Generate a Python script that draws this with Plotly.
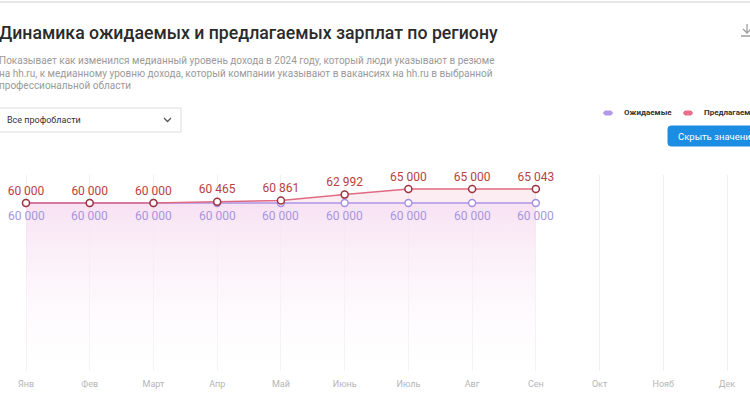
import plotly.graph_objects as go

months = ["Янв", "Фев", "Март", "Апр", "Май", "Июнь", "Июль", "Авг", "Сен", "Окт", "Нояб", "Дек"]
expected = [60000, 60000, 60000, 60000, 60000, 60000, 60000, 60000, 60000]
offered = [60000, 60000, 60000, 60465, 60861, 62992, 65000, 65000, 65043]

W, H = 750, 400


def px(x):
    return x / W


def py(y):
    return 1 - y / H


def fmt(v):
    return f"{v:,}".replace(",", " ")


fig = go.Figure()

fig.add_trace(go.Scatter(
    x=months[:len(expected)], y=expected,
    mode="lines+markers",
    line=dict(color="#ad95e6", width=1.5),
    marker=dict(size=7, color="white", line=dict(color="#a48ee0", width=1.4)),
    fill="tozeroy",
    fillgradient=dict(type="vertical",
                      colorscale=[[0, "rgba(255,255,255,0.2)"], [1, "rgba(247,224,242,0.95)"]]),
    cliponaxis=False,
    hoverinfo="skip", showlegend=False,
))

fig.add_trace(go.Scatter(
    x=months[:len(offered)], y=offered,
    mode="lines+markers+text",
    text=[fmt(v) for v in offered],
    textposition="top center",
    textfont=dict(color="#b8423f", size=12, family="Roboto"),
    line=dict(color="#e06a82", width=1.5),
    marker=dict(size=7, color="white", line=dict(color="#9e3440", width=1.5)),
    fill="tonexty",
    fillcolor="rgba(248,215,228,0.45)",
    cliponaxis=False,
    hoverinfo="skip", showlegend=False,
))

xmin = -26 / 63.73
fig.update_xaxes(
    type="category", categoryorder="array", categoryarray=months,
    range=[xmin, xmin + W / 63.73],
    tickvals=months, ticktext=months,
    tickfont=dict(color="#b5b5b5", size=9, family="Roboto"),
    ticklabelstandoff=6,
    showgrid=True, gridcolor="#f0f0f0", gridwidth=1,
    zeroline=False, showline=False, ticks="",
    domain=[0, 1], fixedrange=True,
)
fig.update_yaxes(
    range=[0, 70000], visible=False, showgrid=False, zeroline=False,
    domain=[py(371), py(175)], fixedrange=True,
)

ann = []
shapes = []

# value labels for the expected series (through the data axes)
for m, v in zip(months, expected):
    ann.append(dict(x=m, y=v, xref="x", yref="y", text=fmt(v), showarrow=False,
                    yshift=-13, yanchor="middle", xanchor="center",
                    font=dict(color="#a496e0", size=12, family="Roboto")))

# top border line
shapes.append(dict(type="line", xref="paper", yref="paper", x0=0, x1=1, y0=py(2), y1=py(2),
                   line=dict(color="#e6e6e6", width=2)))

ann.append(dict(text="Динамика ожидаемых и предлагаемых зарплат по региону",
                x=px(-3), y=py(33), xref="paper", yref="paper", xanchor="left", yanchor="middle",
                showarrow=False, font=dict(size=17.7, color="#2b2b2b", family="Roboto", weight=500)))

subtitle = ["Показывает как изменился медианный уровень дохода в 2024 году, который люди указывают в резюме",
            "на hh.ru, к медианному уровню дохода, который компании указывают в вакансиях на hh.ru в выбранной",
            "профессиональной области"]
for i, line in enumerate(subtitle):
    ann.append(dict(text=line, x=px(-3), y=py(60 + 13 * i), xref="paper", yref="paper",
                    xanchor="left", yanchor="middle", showarrow=False,
                    font=dict(size=10, color="#9a9a9a", family="Roboto")))

# dropdown
shapes.append(dict(type="rect", xref="paper", yref="paper", x0=px(-1), x1=px(181), y0=py(132), y1=py(108),
                   line=dict(color="#dcdcdc", width=1), fillcolor="white"))
ann.append(dict(text="Все профобласти", x=px(5), y=py(120), xref="paper", yref="paper",
                xanchor="left", yanchor="middle", showarrow=False,
                font=dict(size=9, color="#333333", family="Roboto")))
shapes.append(dict(type="path", xref="paper", yref="paper",
                   path=f"M {px(164)} {py(118)} L {px(167.5)} {py(121.5)} L {px(171)} {py(118)}",
                   line=dict(color="#555555", width=1.3)))

# legend
for cx, col, label in [(608, "#b39ae8", "Ожидаемые"), (688, "#ea6f8c", "Предлагаемые")]:
    shapes.append(dict(type="path", xref="paper", yref="paper",
                       path=f"M {px(cx-3)} {py(111)} L {px(cx+3)} {py(111)} "
                            f"Q {px(cx+6)} {py(113)} {px(cx+3)} {py(115)} L {px(cx-3)} {py(115)} "
                            f"Q {px(cx-6)} {py(113)} {px(cx-3)} {py(111)} Z",
                       fillcolor=col, line=dict(color=col, width=1)))
    ann.append(dict(text=f"<b>{label}</b>", x=px(cx + 14), y=py(113), xref="paper", yref="paper",
                    xanchor="left", yanchor="middle", showarrow=False,
                    font=dict(size=8, color="#333333", family="Roboto")))

# button
x0b, x1b, y0b, y1b, r = 668, 756, 126, 146, 3
shapes.append(dict(type="path", xref="paper", yref="paper",
                   path=(f"M {px(x0b+r)} {py(y0b)} L {px(x1b-r)} {py(y0b)} Q {px(x1b)} {py(y0b)} {px(x1b)} {py(y0b+r)} "
                         f"L {px(x1b)} {py(y1b-r)} Q {px(x1b)} {py(y1b)} {px(x1b-r)} {py(y1b)} "
                         f"L {px(x0b+r)} {py(y1b)} Q {px(x0b)} {py(y1b)} {px(x0b)} {py(y1b-r)} "
                         f"L {px(x0b)} {py(y0b+r)} Q {px(x0b)} {py(y0b)} {px(x0b+r)} {py(y0b)} Z"),
                   fillcolor="#1b8de2", line=dict(color="#1b8de2", width=1)))
ann.append(dict(text="Скрыть значения", x=px(676), y=py(136), xref="paper", yref="paper",
                xanchor="left", yanchor="middle", showarrow=False,
                font=dict(size=9.5, color="white", family="Roboto")))

# download icon
shapes.append(dict(type="path", xref="paper", yref="paper",
                   path=f"M {px(747)} {py(24)} L {px(747)} {py(33)} M {px(743)} {py(29)} L {px(747)} {py(33)} L {px(751)} {py(29)} "
                        f"M {px(741)} {py(36)} L {px(752)} {py(36)}",
                   line=dict(color="#a0a0a0", width=1.3)))

fig.update_layout(
    width=W, height=H,
    margin=dict(l=0, r=0, t=0, b=0),
    paper_bgcolor="white", plot_bgcolor="white",
    annotations=ann, shapes=shapes,
    font=dict(family="Roboto"),
)

fig.write_html("out.html", config={"displayModeBar": False},
               post_script="document.body.style.margin='0';document.body.style.overflow='hidden';")
